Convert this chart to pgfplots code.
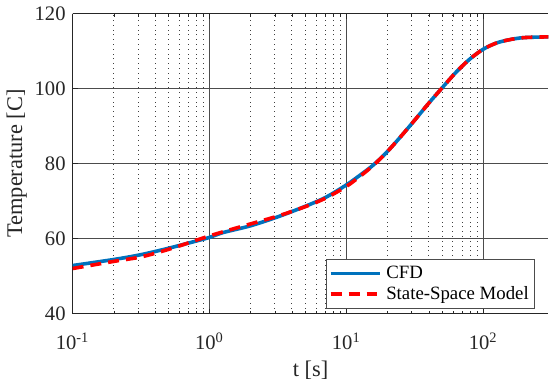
\documentclass[border=0pt]{standalone}
\usepackage{fontspec}
\setmainfont{Liberation Serif}
\usepackage{pgfplots}
\pgfplotsset{compat=1.18}
\definecolor{mblue}{rgb}{0,0.447,0.741}
\definecolor{tcol}{rgb}{0.15,0.15,0.15}
\begin{document}
\begin{tikzpicture}
\begin{axis}[
  scale only axis, width=238pt, height=150pt,
  xmode=log, xmin=0.1, xmax=300, ymin=40, ymax=120,
  font=\rmfamily\fontsize{10.3}{12}\selectfont,
  xtick={0.1,1,10,100},
  xticklabels={10\textsuperscript{-1},10\textsuperscript{0},10\textsuperscript{1},10\textsuperscript{2}},
  ytick={40,60,80,100,120},
  yticklabels={40,60,80,100,120},
  xticklabel style={yshift=-6pt, text=tcol, font=\rmfamily\fontsize{10.3}{12}\selectfont},
  yticklabel style={text=tcol, font=\rmfamily\fontsize{10.3}{12}\selectfont},
  xlabel={t [s]}, ylabel={Temperature [C]},
  label style={font=\rmfamily\fontsize{11.2}{13}\selectfont, text=tcol},
  xlabel style={yshift=1pt},
  ylabel shift=-3pt,
  grid=both,
  major grid style={black!70, line width=0.4pt},
  minor grid style={black!75, dotted, line width=0.4pt},
  minor y tick num=0,
  tick align=inside, tickwidth=2.5pt, subtickwidth=1.5pt,
  axis line style={tcol, line width=0.5pt},
  tick style={tcol},
  axis y line*=left, axis x line*=box,
  legend style={at={(0.972,0.0167)}, anchor=south east, draw=black!70, line width=0.4pt, font=\rmfamily\fontsize{9.4}{11}\selectfont, text=black, inner sep=1pt, row sep=-1.5pt},
  legend cell align=left,
  legend image code/.code={\draw[#1] (0pt,0pt) -- (25pt,0pt);},
]
\addplot[mblue, line width=1.8pt, smooth] coordinates {
(0.1,52.8) (0.1995,54.4) (0.3162,55.7) (0.5012,57.4) (0.7943,59.3) (1,60.3) (1.2589,61.6) (1.995,63.4) (3.162,65.8) (5.012,68.6) (7.079,71.0) (10,74.3) (12.59,76.9) (15.85,79.7) (19.95,83.2) (25.12,87.3) (31.62,91.6) (39.81,96.0) (50.12,100.2) (63.10,104.3) (79.43,107.8) (100,110.5) (125.9,112.2) (158.5,113.1) (199.5,113.6) (300,113.8)
};
\addlegendentry{CFD}
\addplot[red, line width=1.8pt, dash pattern=on 5.5pt off 3.5pt, smooth] coordinates {
(0.1,52.0) (0.1995,53.9) (0.3162,55.1) (0.5012,57.1) (0.7943,59.5) (1,60.7) (1.2589,61.8) (1.995,63.9) (3.162,66.0) (5.012,68.5) (7.079,70.8) (10,73.9) (12.59,76.6) (15.85,79.6) (19.95,83.2) (25.12,87.3) (31.62,91.6) (39.81,96.0) (50.12,100.2) (63.10,104.3) (79.43,107.8) (100,110.5) (125.9,112.2) (158.5,113.1) (199.5,113.6) (300,113.8)
};
\addlegendentry{State-Space Model}
\end{axis}
\end{tikzpicture}
\end{document}
